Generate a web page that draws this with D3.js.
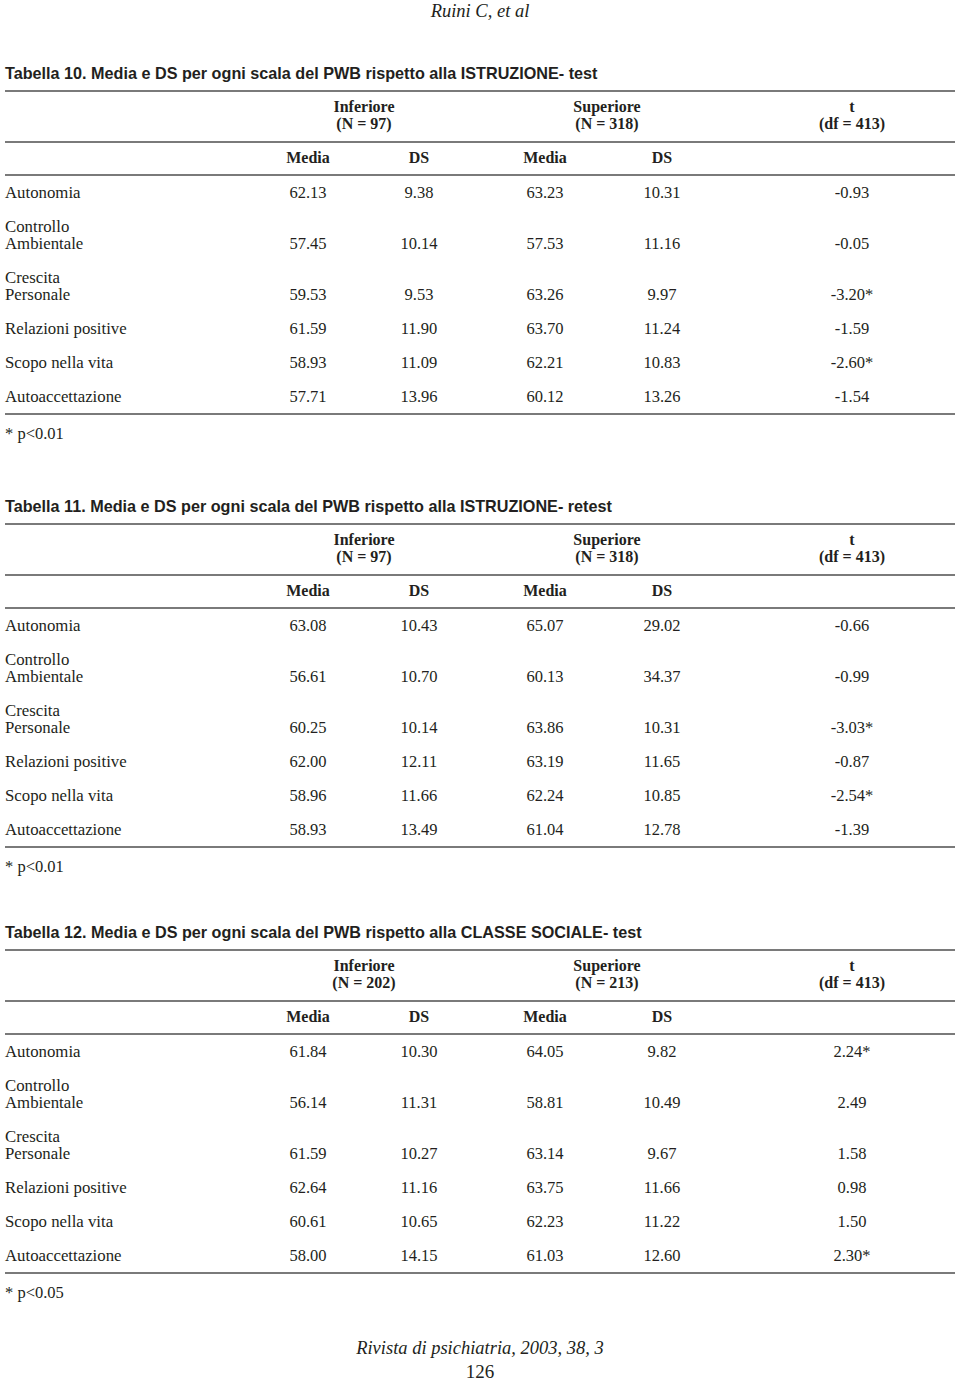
<!DOCTYPE html>
<html>
<head>
<meta charset="utf-8">
<script src="https://cdn.jsdelivr.net/npm/d3@7/dist/d3.min.js"></script>
<style>
  html, body { margin: 0; padding: 0; background: #fff; }
  svg { display: block; }
</style>
</head>
<body>
<svg id="page" width="960" height="1382"></svg>
<script>
// ---------------- DATA ----------------
const runningHead = "Ruini C, et al";
const footerJournal = "Rivista di psichiatria, 2003, 38, 3";
const footerPage = "126";

const rowLabels = [
  ["Autonomia"],
  ["Controllo", "Ambientale"],
  ["Crescita", "Personale"],
  ["Relazioni positive"],
  ["Scopo nella vita"],
  ["Autoaccettazione"]
];
const subHeaders = ["Media", "DS", "Media", "DS"];

const titles = [
  "Tabella 10. Media e DS per ogni scala del PWB rispetto alla ISTRUZIONE- test",
  "Tabella 11. Media e DS per ogni scala del PWB rispetto alla ISTRUZIONE- retest",
  "Tabella 12. Media e DS per ogni scala del PWB rispetto alla CLASSE SOCIALE- test"
];
const groupNames = ["Inferiore", "Superiore", "t"];
const groupN = [
  ["(N = 97)", "(N = 318)", "(df = 413)"],
  ["(N = 97)", "(N = 318)", "(df = 413)"],
  ["(N = 202)", "(N = 213)", "(df = 413)"]
];
const footnotes = ["* p<0.01", "* p<0.01", "* p<0.05"];

// Tabella 10
const t10InfMedia = [62.13, 57.45, 59.53, 61.59, 58.93, 57.71];
const t10InfDS    = [9.38, 10.14, 9.53, 11.90, 11.09, 13.96];
const t10SupMedia = [63.23, 57.53, 63.26, 63.70, 62.21, 60.12];
const t10SupDS    = [10.31, 11.16, 9.97, 11.24, 10.83, 13.26];
const t10T        = [-0.93, -0.05, -3.20, -1.59, -2.60, -1.54];
const t10Sig      = [false, false, true, false, true, false];

// Tabella 11
const t11InfMedia = [63.08, 56.61, 60.25, 62.00, 58.96, 58.93];
const t11InfDS    = [10.43, 10.70, 10.14, 12.11, 11.66, 13.49];
const t11SupMedia = [65.07, 60.13, 63.86, 63.19, 62.24, 61.04];
const t11SupDS    = [29.02, 34.37, 10.31, 11.65, 10.85, 12.78];
const t11T        = [-0.66, -0.99, -3.03, -0.87, -2.54, -1.39];
const t11Sig      = [false, false, true, false, true, false];

// Tabella 12
const t12InfMedia = [61.84, 56.14, 61.59, 62.64, 60.61, 58.00];
const t12InfDS    = [10.30, 11.31, 10.27, 11.16, 10.65, 14.15];
const t12SupMedia = [64.05, 58.81, 63.14, 63.75, 62.23, 61.03];
const t12SupDS    = [9.82, 10.49, 9.67, 11.66, 11.22, 12.60];
const t12T        = [2.24, 2.49, 1.58, 0.98, 1.50, 2.30];
const t12Sig      = [true, false, false, false, false, true];

// ---------------- LAYOUT ----------------
const tables = [
  { cols: [t10InfMedia, t10InfDS, t10SupMedia, t10SupDS], t: t10T, sig: t10Sig, top: 73 },
  { cols: [t11InfMedia, t11InfDS, t11SupMedia, t11SupDS], t: t11T, sig: t11Sig, top: 506 },
  { cols: [t12InfMedia, t12InfDS, t12SupMedia, t12SupDS], t: t12T, sig: t12Sig, top: 932 }
];

const serif = "'Liberation Serif', 'Times New Roman', serif";
const sans  = "'Liberation Sans', Arial, sans-serif";
const ink = "#231f20";
const ruleColor = "#7a7a7a";

const colX = d3.scaleOrdinal()
  .domain(["m1", "s1", "m2", "s2", "t"])
  .range([308, 419, 545, 662, 852]);
const groupX = d3.scaleOrdinal()
  .domain(groupNames)
  .range([364, 607, 852]);

const svg = d3.select("#page");
const fmt = d3.formatLocale({ decimal: ".", thousands: ",", grouping: [3], currency: ["", ""], minus: "-" }).format(".2f");
const ROW = 34, LINE = 17;
const left = 5, right = 955;
const midOff = 0.34; // em shift to vertically centre glyphs

function textAt(g, str, x, yc, opts) {
  const o = Object.assign({ size: 16.5, family: serif, weight: "normal", style: "normal", anchor: "middle" }, opts || {});
  return g.append("text")
    .attr("x", x)
    .attr("y", yc + o.size * midOff)
    .attr("text-anchor", o.anchor)
    .attr("font-family", o.family)
    .attr("font-size", o.size)
    .attr("font-weight", o.weight)
    .attr("font-style", o.style)
    .attr("fill", ink)
    .text(str);
}

// running head and footer
textAt(svg, runningHead, 480, 11, { size: 18.5, style: "italic" });
textAt(svg, footerJournal, 480, 1348, { size: 18.5, style: "italic" });
textAt(svg, footerPage, 480, 1372, { size: 19 });

tables.forEach((tb, ti) => {
  const g = svg.append("g");
  const T = tb.top;

  // title
  textAt(g, titles[ti], left, T, { size: 16.2, family: sans, weight: "bold", anchor: "start" });

  const ruleYs = [T + 18, T + 69, T + 102];
  // group headers
  groupNames.forEach((name, gi) => {
    textAt(g, name, groupX(name), T + 34, { size: 16, weight: "bold" });
    textAt(g, groupN[ti][gi], groupX(name), T + 51, { size: 16, weight: "bold" });
  });
  // sub headers
  ["m1", "s1", "m2", "s2"].forEach((k, i) => {
    textAt(g, subHeaders[i], colX(k), T + 85, { size: 16, weight: "bold" });
  });

  // rows
  let y = T + 119 - ROW;
  let lastY = 0;
  rowLabels.forEach((lines, r) => {
    y += ROW;
    lines.forEach((ln, li) => {
      if (li > 0) y += LINE;
      textAt(g, ln, left, y, { anchor: "start", size: 16.8 });
    });
    ["m1", "s1", "m2", "s2"].forEach((k, ci) => {
      textAt(g, fmt(tb.cols[ci][r]), colX(k), y);
    });
    textAt(g, fmt(tb.t[r]) + (tb.sig[r] ? "*" : ""), colX("t"), y);
    lastY = y;
  });
  ruleYs.push(lastY + 18);

  g.selectAll("line.rule").data(ruleYs).enter().append("line")
    .attr("class", "rule")
    .attr("x1", left).attr("x2", right)
    .attr("y1", d => d).attr("y2", d => d)
    .attr("stroke", ruleColor)
    .attr("stroke-width", 2);

  textAt(g, footnotes[ti], left, lastY + 37, { anchor: "start" });
});
</script>
</body>
</html>
